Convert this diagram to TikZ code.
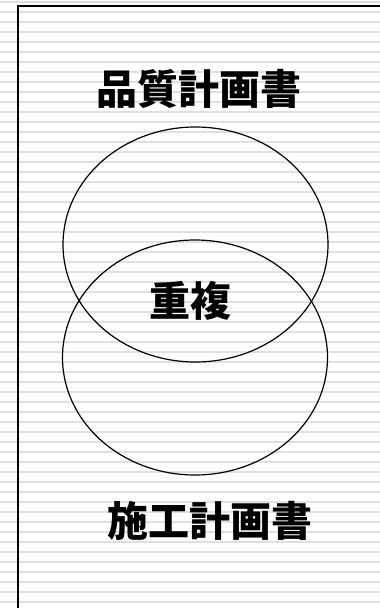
\documentclass[tikz,border=0pt]{standalone}
\usepackage{fontspec}
\newfontfamily\cjk{Noto Sans CJK JP}
\usepackage{tikz}
\usetikzlibrary{positioning,shapes.geometric}

\tikzset{
  stripe/.style={draw=black!12, line width=2.5pt},
  setbox/.style={draw, ellipse, line width=1.2pt, inner sep=0pt, minimum width=265pt, minimum height=235pt},
  caption/.style={font=\cjk\bfseries\fontsize{41}{41}\selectfont, inner sep=0pt}
}

\begin{document}
\begin{tikzpicture}[x=1pt, y=-1pt, node distance=0.5cm]
    \useasboundingbox (0,0) rectangle (380,608);
    \fill[white] (0,0) rectangle (380,608);
    % ruled background
    \foreach \y in {2,12,...,602}
        \draw[stripe] (0,\y) -- (380,\y);
    \draw[line width=2pt] (17.5,608) -- (17.5,6) -- (380,6);

    \node[setbox](plan) at (195.5,244.5){};
    \node[setbox](work) at (195,357.5){};

    \node[caption](plantitle) at (199,89){品質計画書};
    \node[caption](overlap) at (190,301){重複};
    \node[caption](worktitle) at (210,521){施工計画書};
\end{tikzpicture}
\end{document}
